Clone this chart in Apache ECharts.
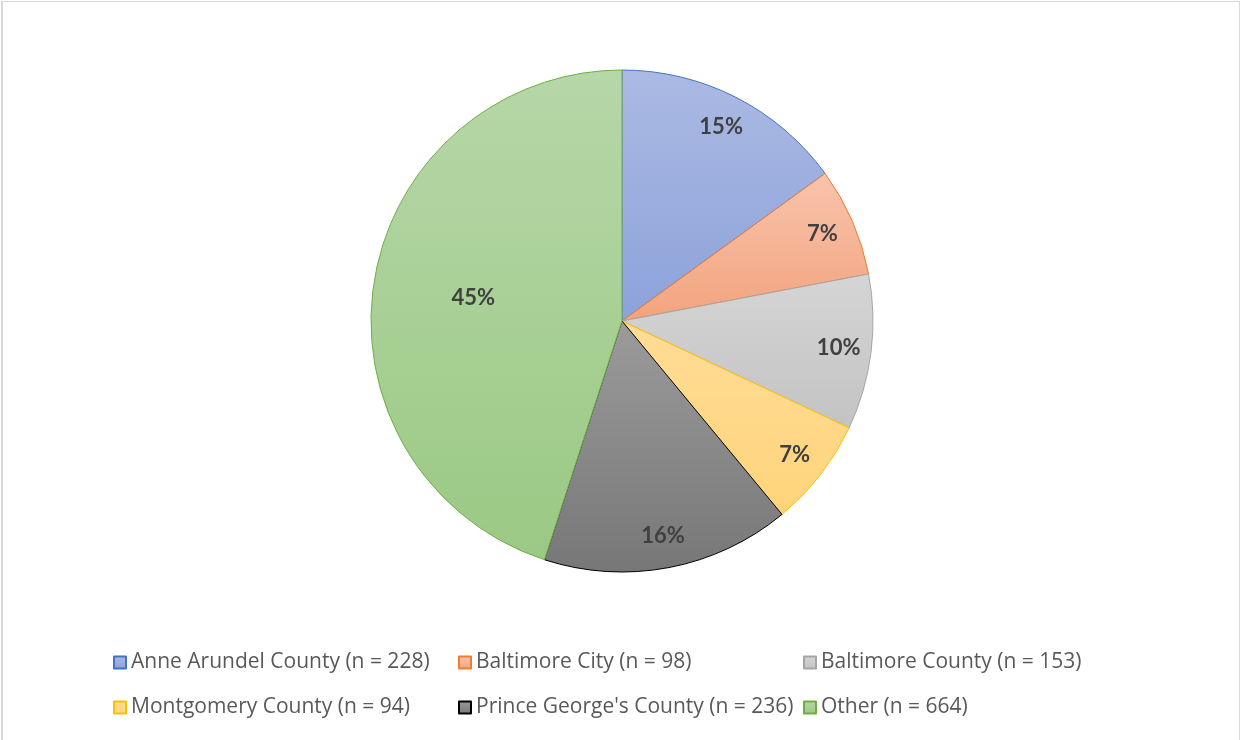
<!DOCTYPE html>
<html>
<head>
<meta charset="utf-8">
<script src="https://cdn.jsdelivr.net/npm/echarts@6/dist/echarts.min.js"></script>
<style>
  html, body { margin: 0; padding: 0; background: #fff; }
  #frame { position: absolute; left: 1px; top: 1px; width: 1239px; height: 760px;
           border: 1px solid #d9d9d9; border-left-width: 2px; box-sizing: border-box; }
  #chart { position: absolute; left: 0; top: 0; width: 1242px; height: 740px; }
</style>
</head>
<body>
<div id="frame"></div>
<div id="chart"></div>
<script>
// Jurisdictions, respondent counts and each jurisdiction's share (%)
const regions = ['Anne Arundel County', 'Baltimore City', 'Baltimore County',
                 'Montgomery County', "Prince George's County", 'Other'];
const counts = [228, 98, 153, 94, 236, 664];
const shares = [15, 7, 10, 7, 16, 45];

// Slice fills (top -> bottom gradient) and outline colours
const fillTop    = ['#abbae3', '#f8c4ad', '#d5d5d5', '#ffdc97', '#9b9b9b', '#b6d7a8'];
const fillBottom = ['#8ca2da', '#f3a37d', '#c3c3c3', '#ffd47a', '#777777', '#9bc984'];
const outline    = ['#4472c4', '#ed7d31', '#a5a5a5', '#ffc000', '#000000', '#70ad47'];

const CX = 622, CY = 321, R = 251;
const total = shares.reduce((a, b) => a + b, 0);

const legendNames = regions.map((r, i) => r + ' (n = ' + counts[i] + ')');

const data = shares.map((v, i) => ({
  name: legendNames[i],
  value: v,
  itemStyle: {
    color: new echarts.graphic.LinearGradient(0, 0, 0, 1, [
      { offset: 0, color: fillTop[i] },
      { offset: 1, color: fillBottom[i] }
    ]),
    borderColor: outline[i],
    borderWidth: 1
  }
}));

// Label placement along each slice's mid-angle; large slices sit nearer the centre
function labelPos(idx) {
  let before = 0;
  for (let i = 0; i < idx; i++) before += shares[i];
  const mid = (before + shares[idx] / 2) / total * Math.PI * 2;
  const k = shares[idx] / total > 0.4 ? 0.6 : 0.87;
  return { x: CX + Math.sin(mid) * R * k, y: CY - Math.cos(mid) * R * k };
}

const chart = echarts.init(document.getElementById('chart'), null, { renderer: 'canvas' });
chart.setOption({
  backgroundColor: 'transparent',
  animation: false,
  legend: {
    left: 113, top: 640, width: 1100,
    orient: 'horizontal',
    padding: 0,
    itemWidth: 12, itemHeight: 12, itemGap: 0,
    icon: 'rect',
    data: legendNames,
    textStyle: {
      fontFamily: 'Open Sans', fontSize: 21, color: '#595959',
      width: 327, lineHeight: 45
    }
  },
  series: [{
    type: 'pie',
    center: [CX, CY],
    radius: [0, R],
    startAngle: 90,
    clockwise: true,
    label: {
      show: true,
      position: 'inside',
      formatter: p => p.value + '%',
      fontFamily: 'Lato', fontWeight: 'bold', fontSize: 22, color: '#404040'
    },
    labelLayout: p => Object.assign(labelPos(p.dataIndex), { align: 'center', verticalAlign: 'middle' }),
    emphasis: { disabled: true },
    data: data
  }]
});
</script>
</body>
</html>
